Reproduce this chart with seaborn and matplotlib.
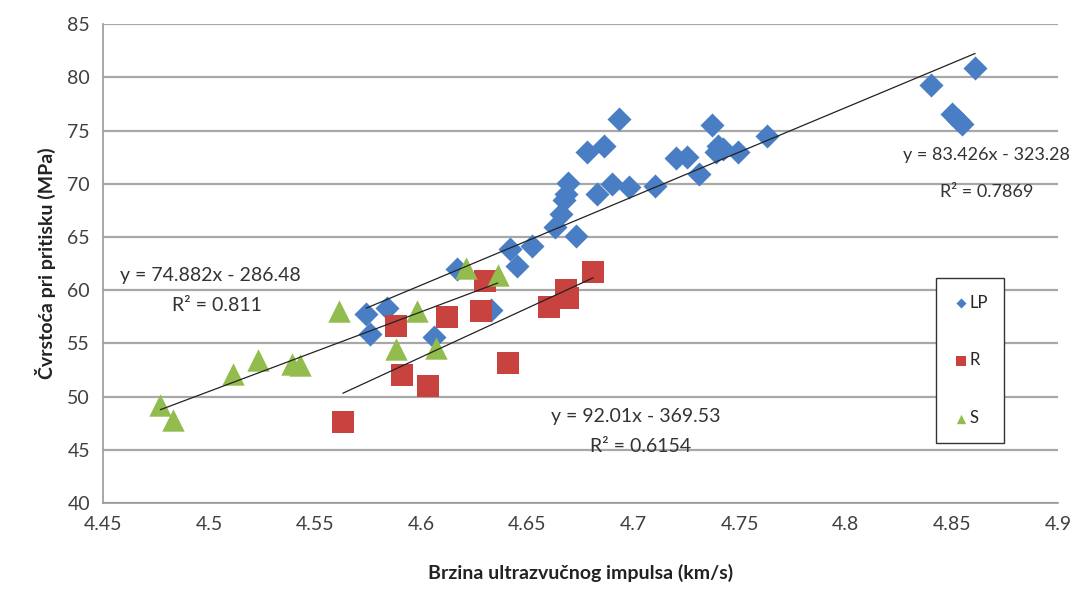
import numpy as np
import pandas as pd
import matplotlib
matplotlib.use('Agg')
import matplotlib.pyplot as plt
import seaborn as sns

# values
lp_x = [4.574, 4.576, 4.584, 4.606, 4.617, 4.633, 4.642, 4.645, 4.652, 4.663,
        4.666, 4.667, 4.668, 4.669, 4.673, 4.678, 4.683, 4.686, 4.690, 4.693,
        4.698, 4.710, 4.720, 4.725, 4.731, 4.737, 4.739, 4.740, 4.742, 4.749,
        4.763, 4.840, 4.850, 4.853, 4.855, 4.861]
lp_y = [57.8, 55.9, 58.3, 55.6, 62.0, 58.1, 63.9, 62.3, 64.2, 65.9,
        67.2, 68.5, 69.0, 70.1, 65.1, 73.0, 69.0, 73.6, 70.0, 76.1,
        69.7, 69.8, 72.4, 72.5, 70.9, 75.5, 73.0, 73.6, 73.3, 73.0,
        74.5, 79.3, 76.6, 76.0, 75.6, 80.9]

r_x = [4.563, 4.588, 4.591, 4.603, 4.612, 4.628, 4.630, 4.641, 4.660, 4.668, 4.669, 4.681]
r_y = [47.6, 56.6, 52.0, 51.0, 57.5, 58.0, 60.9, 53.2, 58.4, 60.0, 59.3, 61.7]

s_x = [4.477, 4.483, 4.511, 4.523, 4.539, 4.543, 4.561, 4.588, 4.598, 4.607, 4.621, 4.636]
s_y = [49.2, 47.8, 52.1, 53.4, 53.1, 53.0, 58.0, 54.5, 58.0, 54.6, 62.1, 61.4]

# trend line coefficients (slope, intercept, R^2) as printed on the chart
lp_fit = (83.426, -323.28, 0.7869)
r_fit = (92.01, -369.53, 0.6154)
s_fit = (74.882, -286.48, 0.811)

x_ticks = [4.45, 4.5, 4.55, 4.6, 4.65, 4.7, 4.75, 4.8, 4.85, 4.9]
y_ticks = [40, 45, 50, 55, 60, 65, 70, 75, 80, 85]

sns.set_style('white')
plt.rcParams['font.family'] = ['Lato', 'DejaVu Sans']

fig = plt.figure(figsize=(10.74, 5.91), dpi=100)
ax = fig.add_axes([0.096, 0.149, 0.889, 0.81])

blue, red, green = '#4A7EC4', '#C8423F', '#92BC4E'

sns.scatterplot(x=lp_x, y=lp_y, marker='D', s=150, color=blue, edgecolor=blue,
                linewidth=0, label='LP', ax=ax, zorder=3)
sns.scatterplot(x=r_x, y=r_y, marker='s', s=260, color=red, edgecolor=red,
                linewidth=0, label='R', ax=ax, zorder=3)
sns.scatterplot(x=s_x, y=s_y, marker='^', s=260, color=green, edgecolor=green,
                linewidth=0, label='S', ax=ax, zorder=3)

# linear trend lines
for xs, (k, n, r2) in [(lp_x, lp_fit), (r_x, r_fit), (s_x, s_fit)]:
    xx = np.array([min(xs), max(xs)])
    sns.lineplot(x=xx, y=k * xx + n, color='#222222', lw=0.9, ax=ax, zorder=4,
                 legend=False)

ax.set_xlim(4.45, 4.9)
ax.set_ylim(40, 85)
ax.set_xticks(x_ticks)
ax.set_yticks(y_ticks)
ax.set_xticklabels([f'{v:g}' for v in x_ticks])
ax.yaxis.grid(True, color='#a8a8a8', lw=1.6)
ax.xaxis.grid(False)
ax.set_axisbelow(True)
for side in ['top', 'right']:
    ax.spines[side].set_visible(False)
for side in ['left', 'bottom']:
    ax.spines[side].set_color('#9a9a9a')
    ax.spines[side].set_linewidth(1.2)
ax.tick_params(axis='both', which='major', direction='out', length=6,
               color='#9a9a9a', labelsize=14, labelcolor='#404040')

ax.set_xlabel('Brzina ultrazvučnog impulsa (km/s)', fontsize=14,
              fontweight='bold', color='#222222', labelpad=22)
ax.set_ylabel('Čvrstoća pri pritisku (MPa)', fontsize=14,
              fontweight='bold', color='#222222', labelpad=8)

tc = '#333333'
ax.text(0.018, 0.475, f'y = {s_fit[0]}x - {-s_fit[1]}', transform=ax.transAxes,
        fontsize=14, color=tc, va='center', ha='left')
ax.text(0.072, 0.413, f'R² = {s_fit[2]}', transform=ax.transAxes,
        fontsize=14, color=tc, va='center', ha='left')
ax.text(1.013, 0.727, f'y = {lp_fit[0]}x - {-lp_fit[1]}', transform=ax.transAxes,
        fontsize=13, color=tc, va='center', ha='right')
ax.text(0.925, 0.649, f'R² = {lp_fit[2]}', transform=ax.transAxes,
        fontsize=13, color=tc, va='center', ha='center')
ax.text(0.558, 0.18, f'y = {r_fit[0]}x - {-r_fit[1]}', transform=ax.transAxes,
        fontsize=14, color=tc, va='center', ha='center')
ax.text(0.5625, 0.117, f'R² = {r_fit[2]}', transform=ax.transAxes,
        fontsize=14, color=tc, va='center', ha='center')

leg = ax.legend(loc='upper left', bbox_to_anchor=(0.872, 0.47), frameon=True,
                fancybox=False, framealpha=1, edgecolor='#333333',
                fontsize=12, labelspacing=2.5, handletextpad=0.0,
                borderpad=1.0, borderaxespad=0, markerscale=0.42,
                handlelength=1.0)
leg.get_frame().set_linewidth(1.0)

fig.savefig('out.png', dpi=100)
